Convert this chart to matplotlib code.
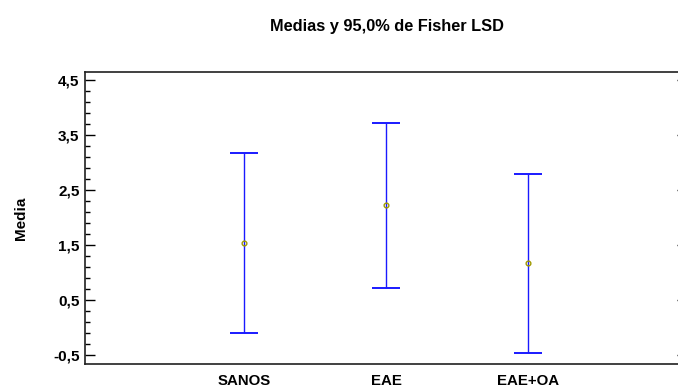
import numpy as np
import matplotlib.pyplot as plt
from matplotlib.ticker import MultipleLocator, FuncFormatter

plt.rcParams['font.family'] = ['Liberation Sans', 'DejaVu Sans']

grupos = ['SANOS', 'EAE', 'EAE+OA']
medias = [1.54, 2.22, 1.17]
limite_inf = [-0.09, 0.72, -0.46]
limite_sup = [3.17, 3.72, 2.79]

x = np.arange(1, len(grupos) + 1)
err = [np.array(medias) - np.array(limite_inf), np.array(limite_sup) - np.array(medias)]

fig = plt.figure(figsize=(6.78, 3.87), dpi=100)
ax = fig.add_axes([85 / 678, 1 - 364 / 387, 602 / 678, 292 / 387])

ax.errorbar(x, medias, yerr=err, fmt='none', ecolor='#1a1aff', elinewidth=1.0,
            capsize=10.3, capthick=1.4)
ax.plot(x, medias, 'o', ms=3.4, mfc='none', mec='#a09a00', mew=1.0)

ax.set_xlim(-0.12, 4.12)
ax.set_ylim(-0.66, 4.645)
ax.set_xticks(x)
ax.set_xticklabels(grupos, fontweight='bold', fontsize=10.8)
ax.tick_params(axis='x', length=0, pad=7)

ax.yaxis.set_major_locator(MultipleLocator(1.0, offset=0.5))
ax.yaxis.set_minor_locator(MultipleLocator(0.2, offset=0.1))
ax.yaxis.set_major_formatter(FuncFormatter(lambda v, p: f'{v:.1f}'.replace('.', ',')))
ax.tick_params(axis='y', which='major', direction='in', length=7.2, width=1.0,
               right=True, labelsize=11, pad=4)
ax.tick_params(axis='y', which='minor', direction='in', length=3.6, width=1.0, right=False)
for lbl in ax.get_yticklabels():
    lbl.set_fontweight('bold')

for s in ax.spines.values():
    s.set_linewidth(1.2)
    s.set_color('#202020')

ax.set_ylabel('Media', fontweight='bold', fontsize=11, labelpad=18)
fig.text(0.571, 1 - 26 / 387, 'Medias y 95,0% de Fisher LSD', ha='center', va='center',
         fontweight='bold', fontsize=11.8)

fig.savefig('out.png', dpi=100)
